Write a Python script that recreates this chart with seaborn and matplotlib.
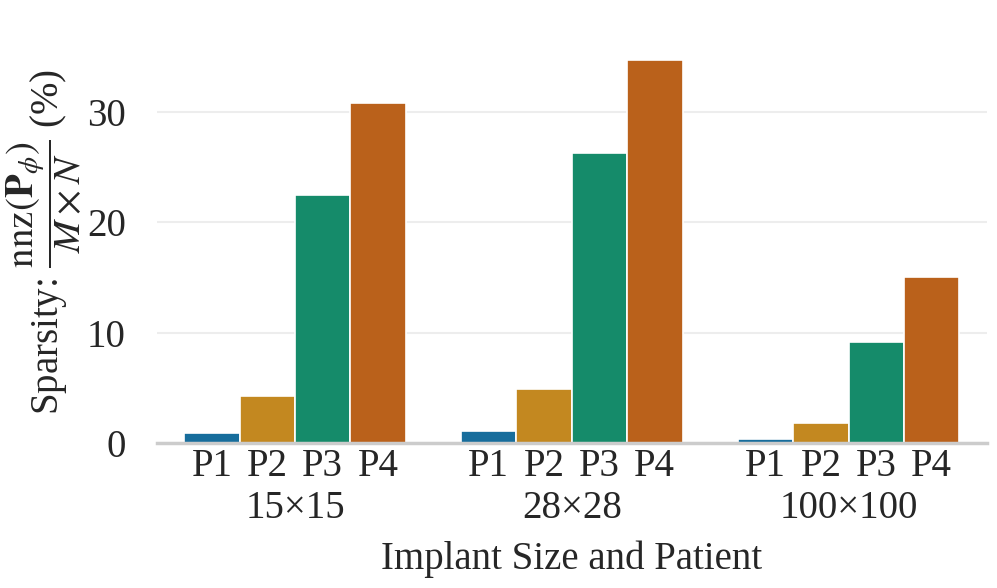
import matplotlib
matplotlib.use("Agg")
import matplotlib.pyplot as plt
import seaborn as sns
import pandas as pd

# Sparsity values (%)
sizes = ['15×15', '28×28', '100×100']
patients = ['P1', 'P2', 'P3', 'P4']
p1 = [0.9, 1.1, 0.3]
p2 = [4.2, 4.9, 1.8]
p3 = [22.5, 26.3, 9.1]
p4 = [30.8, 34.7, 15.0]

rows = []
for i, s in enumerate(sizes):
    for p, vals in zip(patients, [p1, p2, p3, p4]):
        rows.append({'size': s, 'patient': p, 'sparsity': vals[i]})
df = pd.DataFrame(rows)

sns.set_theme(style='whitegrid', palette='colorblind')
plt.rcParams['font.family'] = ['Liberation Serif', 'DejaVu Serif']
plt.rcParams['mathtext.fontset'] = 'stix'
plt.rcParams['font.size'] = 28

fs = 28
fig, ax = plt.subplots(figsize=(9.97, 5.88), dpi=100)
fig.subplots_adjust(left=0.157, right=0.99, bottom=0.247, top=0.93)

sns.barplot(data=df, x='size', y='sparsity', hue='patient',
            order=sizes, hue_order=patients, palette='colorblind',
            edgecolor='white', linewidth=1.2, ax=ax)
ax.get_legend().remove()

# patient labels under each bar, size labels below them
ticks, labels = [], []
for cont, p in zip(ax.containers, patients):
    for b in cont:
        ticks.append(b.get_x() + b.get_width() / 2)
        labels.append(p)
order = sorted(range(len(ticks)), key=lambda k: ticks[k])
ax.set_xticks([ticks[k] for k in order], minor=True)
ax.set_xticklabels([labels[k] for k in order], minor=True, fontsize=fs)
ax.set_xticks(range(len(sizes)))
ax.set_xticklabels(sizes, fontsize=fs)
ax.tick_params(axis='x', which='minor', length=0, pad=4)
ax.tick_params(axis='x', which='major', length=0, pad=34)
ax.tick_params(axis='y', length=0, labelsize=fs, pad=22)
ax.xaxis.grid(False, which='both')
ax.yaxis.grid(True, color='#ededed', linewidth=1.5)
ax.set_yticks([0, 10, 20, 30])

sns.despine(ax=ax, left=True, top=True, right=True)
ax.spines['bottom'].set_color('#cccccc')
ax.spines['bottom'].set_linewidth(2.5)

ax.set_xlabel('Implant Size and Patient', fontsize=fs, labelpad=10)
ax.set_ylabel(r'Sparsity: $\dfrac{\mathrm{nnz}(\mathbf{P}_\phi)}{M\times N}$ (%)',
              fontsize=fs, labelpad=2)

fig.savefig('out.png', dpi=100)
